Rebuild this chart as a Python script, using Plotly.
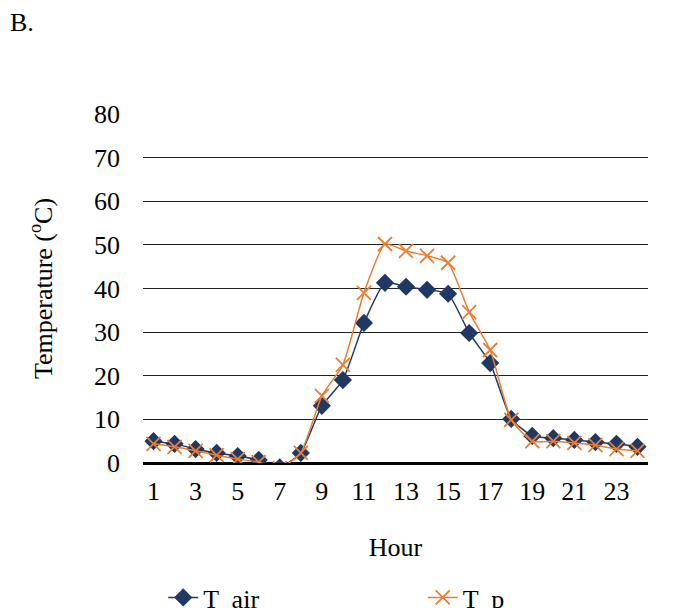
import plotly.graph_objects as go

hours = list(range(1, 25))
t_air = [5.0, 4.4, 3.2, 2.3, 1.6, 0.7, -1.0, 2.3, 13.1, 19.0, 32.1, 41.3,
         40.4, 39.7, 38.8, 29.8, 22.9, 10.1, 6.2, 5.7, 5.3, 4.8, 4.4, 3.7]
t_p = [4.4, 3.7, 2.8, 1.8, 0.9, 0.2, -1.2, 2.3, 15.4, 22.5, 39.0, 50.2,
       48.6, 47.5, 45.9, 34.6, 25.9, 9.9, 5.0, 5.0, 4.6, 4.1, 3.2, 2.8]
x_ticks = list(range(1, 24, 2))
y_ticks = list(range(0, 81, 10))

FONT = "Liberation Serif, Times New Roman, serif"
NAVY = "#1F3864"
ORANGE = "#ED7D31"

fig = go.Figure()
fig.add_trace(go.Scatter(
    x=hours, y=t_air, name="T  air", mode="lines+markers", legend="legend",
    line=dict(color=NAVY, width=1.5, shape="spline", smoothing=0.5),
    marker=dict(symbol="diamond", size=14, color=NAVY),
))
fig.add_trace(go.Scatter(
    x=hours, y=t_p, name="T  p", mode="lines+markers", legend="legend2",
    line=dict(color=ORANGE, width=1.5, shape="spline", smoothing=0.5),
    marker=dict(symbol="x-thin", size=14, line=dict(color=ORANGE, width=1.8)),
))

leg_common = dict(orientation="h", xanchor="left", y=-0.318, yanchor="top",
                  font=dict(family=FONT, size=26), bgcolor="rgba(0,0,0,0)")

fig.update_layout(
    width=696, height=608,
    margin=dict(l=143, r=48, t=114, b=145, autoexpand=False),
    paper_bgcolor="white", plot_bgcolor="white",
    font=dict(family=FONT, size=26, color="black"),
    title=dict(text="B.", x=10/696, xanchor="left", xref="container",
               y=1-22/608, yanchor="middle", yref="container",
               font=dict(family=FONT, size=26, color="black")),
    showlegend=True,
    legend=dict(x=0.04, **leg_common),
    legend2=dict(x=0.554, **leg_common),
    xaxis=dict(range=[0.5, 24.5], tickvals=x_ticks, showgrid=False,
               zeroline=False, showline=False, ticks="",
               ticklabelstandoff=10,
               title=dict(text="Hour", standoff=32, font=dict(size=26))),
    yaxis=dict(range=[0, 80], tickvals=y_ticks, showgrid=True,
               gridcolor="#222222", gridwidth=1, zeroline=True,
               zerolinecolor="black", zerolinewidth=2.5, showline=False,
               ticks="", ticklabelstandoff=22,
               title=dict(text="Temperature (<sup>o</sup>C)", standoff=33,
                          font=dict(size=26))),
)

fig.write_html("out.html")
